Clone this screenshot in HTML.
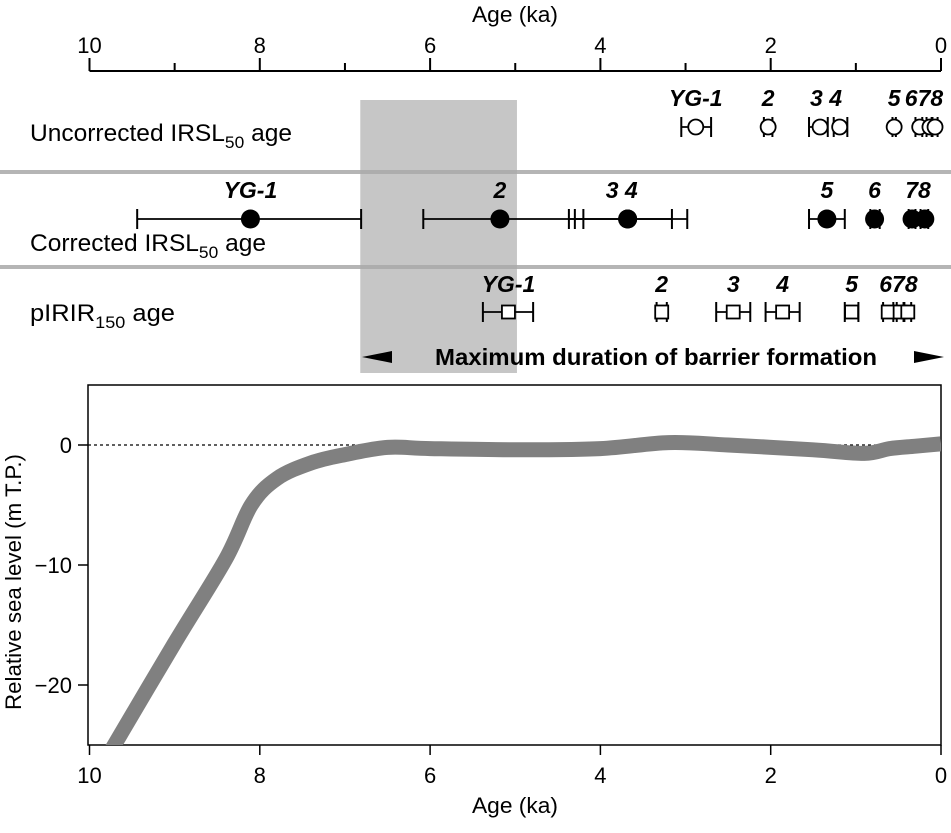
<!DOCTYPE html>
<html><head><meta charset="utf-8"><style>
body{margin:0;background:#fff}
svg{font-family:"Liberation Sans Narrow","Liberation Sans",Arial,sans-serif}
</style></head><body>
<svg width="951" height="828" viewBox="0 0 951 828">
<g id="g"></g>
</svg>
<script>
const ageTicks=[10,8,6,4,2,0];
const uncAge=[2.88,2.03,1.42,1.19,0.55,0.25,0.13,0.07];
const uncLo=[3.05,2.08,1.55,1.26,0.57,0.30,0.17,0.11];
const uncHi=[2.7,1.98,1.33,1.1,0.53,0.22,0.1,0.04];
const uncLab=["YG-1","2","3","4","5","6","7","8"];
const corAge=[8.11,5.18,3.68,3.68,1.34,0.78,0.34,0.19];
const corLo=[9.44,6.08,4.3,4.37,1.55,0.83,0.38,0.24];
const corHi=[6.81,4.2,3.16,2.98,1.13,0.72,0.3,0.15];
const pirAge=[5.08,3.28,2.44,1.86,1.05,0.62,0.48,0.39];
const pirLo=[5.38,3.34,2.64,2.06,1.13,0.68,0.52,0.43];
const pirHi=[4.79,3.22,2.24,1.66,0.97,0.56,0.44,0.35];
const seaAge=[9.75,9.0,8.4,8.1,7.8,7.4,7.0,6.5,6.0,5.0,4.0,3.2,2.5,1.5,0.9,0.6,0.3,0];
const seaLevel=[-25.5,-16.5,-9.5,-5,-2.8,-1.5,-0.8,-0.2,-0.3,-0.4,-0.3,0.2,0,-0.4,-0.7,-0.3,-0.1,0.1];
const seaTicks=[0,-10,-20];
const band=[6.82,4.98];

const X=a=>941-85.15*a;
const Y=v=>445-12*v;
const g=document.getElementById('g');
const NS='http://www.w3.org/2000/svg';
function el(t,at,txt){const e=document.createElementNS(NS,t);for(const k in at)e.setAttribute(k,at[k]);if(txt!==undefined)e.textContent=txt;g.appendChild(e);return e;}

let b=el('rect',{x:X(band[0]),y:100,width:X(band[1])-X(band[0]),height:273,fill:'#c6c6c6'});


[172,267].forEach((y,i)=>{let l=el('rect',{x:0,y:y-2,width:951,height:4,fill:'#a8a8a8',opacity:0.85});

});

let t=el('text',{x:515,y:22,'font-size':22,'text-anchor':'middle',textLength:86,lengthAdjust:'spacingAndGlyphs'},'Age (ka)');


el('line',{x1:X(10),x2:X(0),y1:71,y2:71,stroke:'#000','stroke-width':2});
for(let a=0;a<=10;a++){el('line',{x1:X(a),x2:X(a),y1:71,y2:a%2==0?58:63,stroke:'#000','stroke-width':2});}
ageTicks.forEach(a=>{let e=el('text',{x:X(a),y:53,'font-size':22,'text-anchor':'middle'},a);

});

function rowLab(y,html,name,len){let e=el('text',{x:30,y:y,'font-size':24,textLength:len,lengthAdjust:'spacingAndGlyphs'});e.innerHTML=html;

}
rowLab(141,'Uncorrected IRSL<tspan font-size="17" dy="7">50</tspan><tspan dy="-7"> age</tspan>','uncorrected-row-label',262);
rowLab(251,'Corrected IRSL<tspan font-size="17" dy="7">50</tspan><tspan dy="-7"> age</tspan>','corrected-row-label',236);
rowLab(321,'pIRIR<tspan font-size="17" dy="7">150</tspan><tspan dy="-7"> age</tspan>','pirir-row-label',145);

function row(ages,lo,hi,y,kind,labs,labY,name){
 ages.forEach((a,i)=>{
  el('line',{x1:X(lo[i]),x2:X(hi[i]),y1:y,y2:y,stroke:'#000','stroke-width':1.8});
  [lo[i],hi[i]].forEach(v=>el('line',{x1:X(v),x2:X(v),y1:y-10,y2:y+10,stroke:'#000','stroke-width':2}));
  let m;
  if(kind=='o')m=el('circle',{cx:X(a),cy:y,r:7.5,fill:'#fff',stroke:'#000','stroke-width':1.8});
  else if(kind=='f')m=el('circle',{cx:X(a),cy:y,r:9.5,fill:'#000'});
  else m=el('rect',{x:X(a)-6.5,y:y-6.5,width:13,height:13,fill:'#fff',stroke:'#000','stroke-width':1.8});
  
  
 });
 labs.forEach(l=>{let e=el('text',{x:X(l[0]),y:labY,'font-size':23,'font-weight':'bold','font-style':'italic','text-anchor':'middle'},l[1]);
 
 });
}
row(uncAge,uncLo,uncHi,127,'o',[[2.88,uncLab[0]],[2.03,'2'],[1.35,'3 4'],[0.55,'5'],[0.2,'678']],106,'uncorrected');
row(corAge,corLo,corHi,219,'f',[[8.11,'YG-1'],[5.18,'2'],[3.75,'3 4'],[1.34,'5'],[0.78,'6'],[0.27,'78']],198,'corrected');
row(pirAge,pirLo,pirHi,312,'s',[[5.08,'YG-1'],[3.28,'2'],[2.44,'3'],[1.86,'4'],[1.05,'5'],[0.5,'678']],292,'pirir');

let at=el('text',{x:656,y:365,'font-size':23,'font-weight':'bold','text-anchor':'middle',textLength:442,lengthAdjust:'spacingAndGlyphs'},'Maximum duration of barrier formation');


el('polygon',{points:'362,357 392,351 392,363',fill:'#000'});
el('polygon',{points:'944,357 914,351 914,363',fill:'#000'});

let f=el('rect',{x:88,y:385,width:853,height:360,fill:'none',stroke:'#000','stroke-width':1.5});


el('line',{x1:88,x2:941,y1:Y(0),y2:Y(0),stroke:'#000','stroke-width':1.2,'stroke-dasharray':'3,3'});
ageTicks.forEach(a=>{el('line',{x1:X(a),x2:X(a),y1:745,y2:755,stroke:'#000','stroke-width':1.5});
 let e=el('text',{x:X(a),y:783,'font-size':22,'text-anchor':'middle'},a);
 
 });
seaTicks.forEach(v=>{el('line',{x1:78,x2:88,y1:Y(v),y2:Y(v),stroke:'#000','stroke-width':1.5});
 let e=el('text',{x:72,y:Y(v)+8,'font-size':22,'text-anchor':'end'},v<0?'\u2212'+(-v):v);
 
 });
let xt=el('text',{x:515,y:813,'font-size':22,'text-anchor':'middle',textLength:86,lengthAdjust:'spacingAndGlyphs'},'Age (ka)');


let yt=el('text',{x:0,y:0,'font-size':22,'text-anchor':'middle',textLength:256,lengthAdjust:'spacingAndGlyphs',transform:'translate(21,582) rotate(-90)'},'Relative sea level (m T.P.)');


const cp=document.createElementNS(NS,'clipPath');cp.id='c';const cr=document.createElementNS(NS,'rect');
cr.setAttribute('x',88);cr.setAttribute('y',385);cr.setAttribute('width',853);cr.setAttribute('height',360);cp.appendChild(cr);g.appendChild(cp);
const pts=seaAge.map((a,i)=>[X(a),Y(seaLevel[i])]);
let d='M'+pts[0];
for(let i=1;i<pts.length;i++){const p0=pts[i-2]||pts[i-1],p1=pts[i-1],p2=pts[i],p3=pts[i+1]||p2;
 d+=' C'+(p1[0]+(p2[0]-p0[0])/6)+','+(p1[1]+(p2[1]-p0[1])/6)+' '+(p2[0]-(p3[0]-p1[0])/6)+','+(p2[1]-(p3[1]-p1[1])/6)+' '+p2;}
let c=el('path',{d:d,fill:'none',stroke:'#808080','stroke-width':15,'clip-path':'url(#c)'});


</script>
</body></html>
